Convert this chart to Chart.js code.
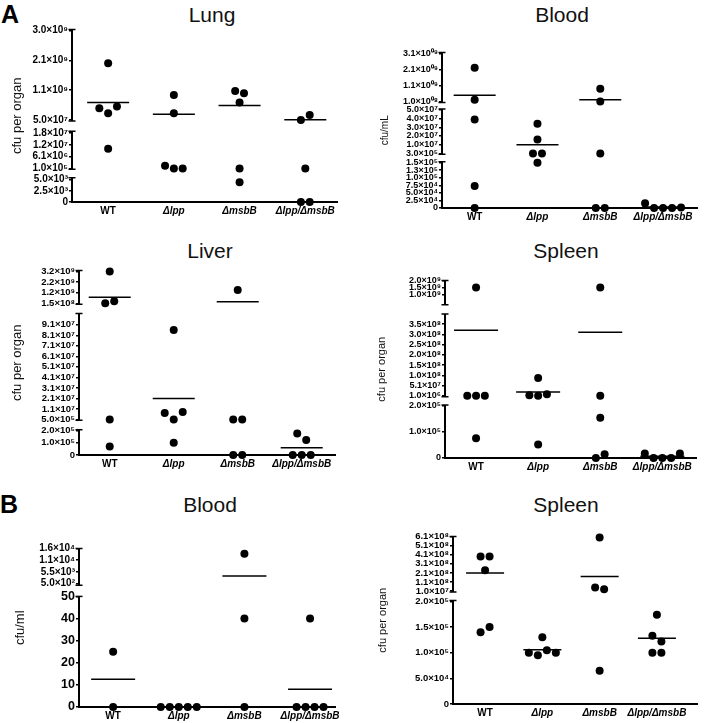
<!DOCTYPE html>
<html>
<head>
<meta charset="utf-8">
<script src="https://cdn.jsdelivr.net/npm/chart.js@4.4.0/dist/chart.umd.min.js"></script>
<style>
  html, body { margin: 0; padding: 0; background: #fff; overflow: hidden; }
  body { width: 720px; height: 723px; position: relative; font-family: 'Liberation Sans', Arial, sans-serif; }
  canvas { position: absolute; }
  .label { position: absolute; transform: translate(-50%, -50%); white-space: nowrap; line-height: 1; color: #111; }
  .letter { font-weight: bold; font-size: 25px; color: #000; }
  .title { font-size: 21px; }
</style>
</head>
<body>
<div class="label letter" style="left:10px;top:13.5px">A</div>
<div class="label letter" style="left:9px;top:503.5px">B</div>
<script>
const FONT = "'Liberation Sans', Arial, sans-serif";

const groups = ['WT', 'Δlpp', 'ΔmsbB', 'Δlpp/ΔmsbB'];

// A - lung (cfu per organ), one list per group
const lungValues = [
    [2.0e9, 4.6e8, 2.9e8, 5.2e8, 1.0e7],
    [9.3e8, 2.9e8, 1.4e6, 1.0e5, 1.0e5],
    [1.07e9, 9.9e8, 6.6e8, 1.0e5, 4.4e3],
    [5.0e7, 2.2e8, 1.0e5, 0, 0]
];
const lungMeans = [6.6e8, 2.5e8, 5.6e8, 5.4e7];
const lungTicks = [
    ['0', '2.5×10³', '5.0×10³'],
    ['1.0×10⁵', '6.1×10⁶', '1.2×10⁷', '1.8×10⁷'],
    ['5.0×10⁷', '1.1×10⁹', '2.1×10⁹', '3.0×10⁹']
];

// A - blood (cfu/mL)
const bloodValues = [
    [2.2e9, 2.2e8, 3.9e7, 7.3e4, 0],
    [3.4e7, 1.6e7, 3.0e5, 3.0e5, 1.5e5],
    [9.0e8, 1.0e8, 3.0e5, 0, 0],
    [1.6e4, 0, 0, 0, 2.0e3]
];
const bloodMeans = [5.0e8, 1.0e7, 2.2e8, 3.6e3];
const bloodTicks = [
    ['0', '2.5×10⁴', '5.0×10⁴', '7.5×10⁴', '1.0×10⁵', '1.3×10⁵', '1.5×10⁵'],
    ['3.0×10⁵', '1.0×10⁷', '2.0×10⁷', '3.0×10⁷', '4.0×10⁷', '5.0×10⁷'],
    ['1.0×10⁰⁸', '1.1×10⁰⁹', '2.1×10⁰⁹', '3.1×10⁰⁹']
];

// A - liver (cfu per organ)
const liverValues = [
    [3.2e9, 1.5e8, 3.6e8, 5.0e5, 6.9e4],
    [8.6e7, 7.0e6, 5.0e5, 8.0e6, 1.0e5],
    [1.45e9, 5.0e5, 5.0e5, 0, 0],
    [1.77e5, 1.23e5, 0, 0, 0]
];
const liverMeans = [7.4e8, 2.1e7, 2.9e8, 6.0e4];
const liverTicks = [
    ['0', '1.0×10⁵', '2.0×10⁵'],
    ['5.0×10⁵', '1.1×10⁷', '2.1×10⁷', '3.1×10⁷', '4.1×10⁷', '5.1×10⁷', '6.1×10⁷', '7.1×10⁷', '8.1×10⁷', '9.1×10⁷'],
    ['1.5×10⁸', '1.2×10⁹', '2.2×10⁹', '3.2×10⁹']
];

// A - spleen (cfu per organ)
const spleenValues = [
    [1.5e9, 1.0e6, 1.0e6, 1.0e6, 7.6e4],
    [8.7e7, 3.0e6, 1.0e6, 8.0e6, 5.2e4],
    [1.5e9, 1.0e6, 1.55e5, 0, 1.4e4],
    [1.7e4, 0, 0, 0, 1.7e4]
];
const spleenMeans = [3.2e8, 1.9e7, 3.1e8, 7.0e3];
const spleenTicks = [
    ['0', '1.0×10⁵', '2.0×10⁵'],
    ['1.0×10⁶', '5.1×10⁷', '1.0×10⁸', '1.5×10⁸', '2.0×10⁸', '2.5×10⁸', '3.0×10⁸', '3.5×10⁸'],
    ['1.0×10⁹', '1.5×10⁹', '2.0×10⁹']
];

// B - blood (cfu/ml)
const bloodBValues = [
    [25, 0],
    [0, 0, 0, 0, 0],
    [1.37e4, 40, 0],
    [40, 0, 0, 0, 0]
];
const bloodBMeans = [12.5, 0, 3.7e3, 8];
const bloodBTicks = [
    ['0', '10', '20', '30', '40', '50'],
    ['5.0×10²', '5.5×10³', '1.1×10⁴', '1.6×10⁴']
];

// B - spleen (cfu per organ)
const spleenBValues = [
    [3.9e8, 3.9e8, 2.4e8, 1.4e5, 1.5e5],
    [1.3e5, 1.0e5, 0.95e5, 1.05e5, 1.0e5],
    [6.0e8, 5.0e7, 3.0e7, 6.5e4],
    [1.74e5, 1.33e5, 1.22e5, 1.0e5, 1.0e5]
];
const spleenBMeans = [2.1e8, 1.06e5, 1.7e8, 1.28e5];
const spleenBTicks = [
    ['0', '5.0×10⁴', '1.0×10⁵', '1.5×10⁵', '2.0×10⁵'],
    ['1.0×10⁷', '1.1×10⁸', '2.1×10⁸', '3.1×10⁸', '4.1×10⁸', '5.1×10⁸', '6.1×10⁸']
];

// page layout of each panel (page pixels); segs list the broken y-axis pieces bottom-up
const panels = [
    { title: 'Lung', titleAt: [212, 14], yTitle: 'cfu per organ', yTitleX: 17, yTitleSize: 13,
      values: lungValues, means: lungMeans, ticks: lungTicks,
      left: 0, width: 360, axisX: 72, axisRight: 343, plotTop: 17, axisY: 202, xRange: [0.45, 4.49],
      tickSize: 10, meanHalf: 21,
      segs: [{ at: [202, 178], ends: [202, 176] }, { at: [166, 128], ends: [167, 126] }, { at: [114, 18], ends: [115, 17] }] },
    { title: 'Blood', titleAt: [562, 14], yTitle: 'cfu/mL', yTitleX: 385, yTitleSize: 10,
      values: bloodValues, means: bloodMeans, ticks: bloodTicks,
      left: 370, width: 350, axisX: 442, axisRight: 697, plotTop: 40, axisY: 208, xRange: [0.48, 4.54],
      tickSize: 9, meanHalf: 21,
      segs: [{ at: [208, 159], ends: [208, 158] }, { at: [149, 102], ends: [150, 101] }, { at: [93, 41], ends: [94, 40] }] },
    { title: 'Liver', titleAt: [210, 250], yTitle: 'cfu per organ', yTitleX: 17, yTitleSize: 13,
      values: liverValues, means: liverMeans, ticks: liverTicks,
      left: 0, width: 360, axisX: 79, axisRight: 335, plotTop: 258, axisY: 455, xRange: [0.52, 4.52],
      tickSize: 9.5, meanHalf: 21,
      segs: [{ at: [455, 429], ends: [455, 428] }, { at: [417, 316], ends: [418, 304] }, { at: [293, 259], ends: [294, 258] }] },
    { title: 'Spleen', titleAt: [566, 250], yTitle: 'cfu per organ', yTitleX: 382, yTitleSize: 11,
      values: spleenValues, means: spleenMeans, ticks: spleenTicks,
      left: 370, width: 350, axisX: 445, axisRight: 703, plotTop: 267, axisY: 458, xRange: [0.5, 4.55],
      tickSize: 9, meanHalf: 22,
      segs: [{ at: [458, 402], ends: [458, 401] }, { at: [391, 314], ends: [392, 303] }, { at: [282, 267], ends: [293, 267] }] },
    { title: 'Blood', titleAt: [210, 504], yTitle: 'cfu/ml', yTitleX: 20, yTitleSize: 13,
      values: bloodBValues, means: bloodBMeans, ticks: bloodBTicks,
      left: 0, width: 360, axisX: 79, axisRight: 335, plotTop: 535, axisY: 707, xRange: [0.48, 4.38],
      tickSize: 10, meanHalf: 22,
      segs: [{ at: [707, 587], ends: [707, 587], size: 12.5 }, { at: [573, 535], ends: [575, 535] }] },
    { title: 'Spleen', titleAt: [566, 504], yTitle: 'cfu per organ', yTitleX: 383, yTitleSize: 11,
      values: spleenBValues, means: spleenBMeans, ticks: spleenBTicks,
      left: 370, width: 350, axisX: 453, axisRight: 697, plotTop: 526, axisY: 704, xRange: [0.44, 4.7],
      tickSize: 9.5, meanHalf: 19,
      segs: [{ at: [704, 595], ends: [704, 594] }, { at: [584, 526], ends: [585, 526] }] }
];

const SUP = '⁰¹²³⁴⁵⁶⁷⁸⁹';

// "2.5×10³" -> 2500
function parseTick(label) {
    const plain = label.replace(/[⁰¹²³⁴⁵⁶⁷⁸⁹]/g, c => SUP.indexOf(c));
    const [m, e] = plain.split('×10');
    return e === undefined ? +m : +m * Math.pow(10, +e);
}

// value -> axis units, interpolated between the ticks of its segment
function toUnits(v, segs) {
    const s = segs.find(s => v <= s.values[s.values.length - 1]) || segs[segs.length - 1];
    const vs = s.values, us = s.units;
    let i = 0;
    while (i < vs.length - 2 && v > vs[i + 1]) i++;
    return us[i] + (v - vs[i]) / (vs[i + 1] - vs[i]) * (us[i + 1] - us[i]);
}

// points that overlap vertically are laid side by side, centred on the group
function swarm(units, dia, gap) {
    const order = units.map((u, i) => i).sort((a, b) => units[a] - units[b]);
    const offsets = new Array(units.length).fill(0);
    const clusters = [];
    let cur = [order[0]];
    for (let k = 1; k < order.length; k++) {
        if (units[order[k]] - units[order[k - 1]] < dia) cur.push(order[k]);
        else { clusters.push(cur); cur = [order[k]]; }
    }
    clusters.push(cur);
    clusters.forEach(c => {
        c.sort((a, b) => a - b);
        c.forEach((idx, j) => { offsets[idx] = (j - (c.length - 1) / 2) * gap; });
    });
    return offsets;
}

// draws the broken y-axis pieces with their end caps
const brokenAxis = {
    id: 'brokenAxis',
    beforeDatasetsDraw(chart, args, opts) {
        const { ctx, chartArea } = chart;
        const y = chart.scales.y;
        const x = chartArea.left;
        ctx.save();
        ctx.strokeStyle = '#000';
        opts.segs.forEach(s => {
            const y1 = y.getPixelForValue(s.lo), y2 = y.getPixelForValue(s.hi);
            ctx.lineWidth = 2;
            ctx.beginPath();
            ctx.moveTo(x, y1 + (s.lo === 0 ? 1 : 0));
            ctx.lineTo(x, y2);
            ctx.stroke();
            ctx.lineWidth = 1.5;
            ctx.beginPath();
            if (s.lo !== 0) { ctx.moveTo(x - 3.5, y1); ctx.lineTo(x + 3.5, y1); }
            ctx.moveTo(x - 3.5, y2);
            ctx.lineTo(x + 3.5, y2);
            ctx.stroke();
        });
        ctx.restore();
    }
};

panels.forEach(p => {
    const segs = p.segs.map((g, i) => {
        const labels = p.ticks[i];
        const u0 = p.axisY - g.at[0], u1 = p.axisY - g.at[1];
        return {
            labels,
            values: labels.map(parseTick),
            units: labels.map((_, k) => u0 + (u1 - u0) * k / (labels.length - 1)),
            lo: p.axisY - g.ends[0],
            hi: p.axisY - g.ends[1],
            size: g.size || p.tickSize
        };
    });
    const tickUnits = segs.flatMap(s => s.units);
    const tickLabels = segs.flatMap(s => s.labels);
    const tickSizes = segs.flatMap(s => s.labels.map(() => s.size));

    const pxPerX = (p.axisRight - p.axisX) / (p.xRange[1] - p.xRange[0]);
    const dots = [], meanPts = [];
    p.values.forEach((vals, g) => {
        const us = vals.map(v => toUnits(v, segs));
        const offs = swarm(us, 8, 9);
        us.forEach((u, k) => dots.push({ x: g + 1 + offs[k] / pxPerX, y: u }));
        meanPts.push({ x: g + 1, y: toUnits(p.means[g], segs) });
    });

    const title = document.createElement('div');
    title.className = 'label title';
    title.textContent = p.title;
    title.style.left = p.titleAt[0] + 'px';
    title.style.top = p.titleAt[1] + 'px';
    document.body.appendChild(title);

    const top = p.plotTop - 10;
    const cv = document.createElement('canvas');
    cv.width = p.width;
    cv.height = p.axisY + 24 - top;
    cv.style.left = p.left + 'px';
    cv.style.top = top + 'px';
    document.body.appendChild(cv);

    new Chart(cv, {
        type: 'scatter',
        data: {
            datasets: [
                { data: dots, pointRadius: 4, pointBackgroundColor: '#000', pointBorderWidth: 0, clip: false },
                { data: meanPts, pointStyle: 'line', pointRadius: p.meanHalf, pointBorderColor: '#000',
                  pointBorderWidth: 1.5, clip: false }
            ]
        },
        options: {
            responsive: false,
            animation: false,
            events: [],
            layout: { padding: { top: 10, right: p.left + p.width - p.axisRight, left: 0, bottom: 0 } },
            plugins: {
                legend: { display: false },
                tooltip: { enabled: false },
                brokenAxis: { segs }
            },
            scales: {
                x: {
                    type: 'linear',
                    min: p.xRange[0],
                    max: p.xRange[1],
                    afterBuildTicks: s => { s.ticks = groups.map((_, i) => ({ value: i + 1 })); },
                    afterFit: s => { s.height = 24; },
                    grid: { display: false, drawTicks: false },
                    border: { display: true, color: '#000', width: 2 },
                    ticks: {
                        autoSkip: false,
                        maxRotation: 0,
                        padding: 3,
                        color: '#000',
                        callback: (v, i) => groups[i],
                        font: ctx => ({ family: FONT, size: 10, weight: 'bold', style: ctx.index > 0 ? 'italic' : 'normal' })
                    }
                },
                y: {
                    type: 'linear',
                    min: 0,
                    max: p.axisY - p.plotTop,
                    afterBuildTicks: s => { s.ticks = tickUnits.map(u => ({ value: u })); },
                    afterFit: s => { s.width = p.axisX - p.left; },
                    grid: { display: true, drawOnChartArea: false, drawTicks: true, tickLength: 3, lineWidth: 1.5, color: '#000' },
                    border: { display: false },
                    ticks: {
                        autoSkip: false,
                        padding: 1,
                        color: '#000',
                        callback: (v, i) => tickLabels[i],
                        font: ctx => ({ family: FONT, size: tickSizes[ctx.index] || p.tickSize, weight: 'bold' })
                    },
                    title: {
                        display: true,
                        text: p.yTitle,
                        color: '#111',
                        font: { family: FONT, size: p.yTitleSize },
                        padding: { top: p.yTitleX - p.left - p.yTitleSize * 0.6, bottom: 0 }
                    }
                }
            }
        },
        plugins: [brokenAxis]
    });
});
</script>
</body>
</html>
